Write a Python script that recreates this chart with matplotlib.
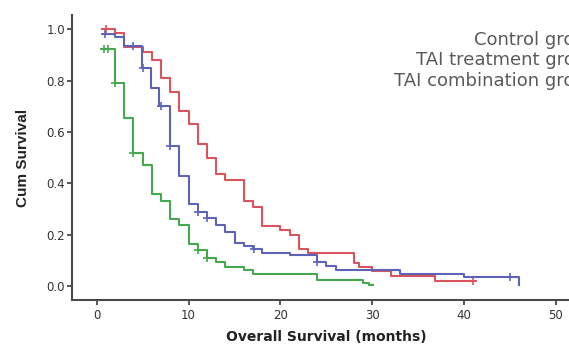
import numpy as np
import matplotlib
matplotlib.use("Agg")
import matplotlib.pyplot as plt

# Kaplan-Meier step data (months, cumulative survival)
red_t = [0.6, 2.0, 3.0, 5.0, 6.0, 7.0, 8.0, 9.0, 10.0, 11.0, 12.0, 13.0, 14.0,
         16.0, 17.0, 18.0, 20.0, 21.0, 22.0, 23.0, 28.0, 28.6, 30.0, 32.0, 36.8, 41.2]
red_s = [1.0, 0.985, 0.93, 0.91, 0.88, 0.81, 0.755, 0.68, 0.63, 0.555, 0.50, 0.435, 0.415,
         0.33, 0.31, 0.235, 0.22, 0.20, 0.146, 0.128, 0.092, 0.076, 0.058, 0.039, 0.019, 0.019]
red_cens = [1.0, 41.0]

blue_t = [0.7, 2.0, 3.0, 4.9, 5.95, 6.8, 7.95, 9.0, 10.0, 11.0, 12.0, 13.0, 14.0,
          15.0, 16.0, 17.0, 18.0, 21.0, 24.0, 25.0, 26.0, 33.0, 40.0, 46.0]
blue_s = [0.98, 0.97, 0.935, 0.85, 0.77, 0.70, 0.545, 0.43, 0.32, 0.29, 0.265, 0.24, 0.21,
          0.17, 0.155, 0.145, 0.13, 0.12, 0.094, 0.079, 0.063, 0.048, 0.034, 0.004]
blue_cens = [0.9, 3.9, 5.0, 7.0, 8.0, 11.0, 12.0, 17.1, 24.0, 45.0]

green_t = [0.6, 2.0, 3.0, 4.0, 5.0, 6.0, 7.0, 8.0, 9.0, 10.0, 11.0, 12.0, 13.0, 14.0,
           16.0, 17.0, 24.0, 29.0, 29.6, 30.1]
green_s = [0.925, 0.79, 0.655, 0.52, 0.47, 0.36, 0.33, 0.26, 0.24, 0.165, 0.14, 0.11, 0.095, 0.075,
           0.062, 0.048, 0.026, 0.013, 0.006, 0.006]
green_cens = [0.8, 1.2, 2.0, 4.0, 11.0, 12.0]

groups = ["Control group", "TAI treatment group", "TAI combination group"]
x_ticks = [0, 10, 20, 30, 40, 50]
y_ticks = [0.0, 0.2, 0.4, 0.6, 0.8, 1.0]

series = [
    (red_t, red_s, red_cens, "#d9545c"),
    (blue_t, blue_s, blue_cens, "#5f63b8"),
    (green_t, green_s, green_cens, "#46a84e"),
]

fig = plt.figure(figsize=(5.69, 3.44), dpi=100)
ax = fig.add_axes([0.1265, 0.127, 0.894, 0.829])

for t, s, cens, col in series:
    ax.step(t, s, where="post", color=col, lw=1.5)
    idx = np.searchsorted(t, cens, side="right") - 1
    ax.plot(cens, np.array(s)[idx], ls="none", marker="+", ms=6, mew=1.2, color=col)

ax.set_xlim(-2.7, 52.7)
ax.set_ylim(-0.055, 1.055)
ax.set_xticks(x_ticks)
ax.set_yticks(y_ticks)
ax.set_yticklabels([f"{v:.1f}" for v in y_ticks])
for side in ["top", "right"]:
    ax.spines[side].set_visible(False)
for side in ["left", "bottom"]:
    ax.spines[side].set_color("#4a4a4a")
    ax.spines[side].set_linewidth(1.5)
ax.tick_params(direction="out", length=3.5, width=1.3, color="#4a4a4a",
               labelsize=8.5, labelcolor="#333333", pad=1.5)
ax.tick_params(axis="x", pad=2.5)

ax.set_xlabel("Overall Survival (months)", fontsize=10, fontweight="bold",
              color="#222222", labelpad=6)
ax.set_ylabel("Cum Survival", fontsize=11, fontweight="bold", color="#222222",
              family=["Liberation Sans", "DejaVu Sans"], labelpad=12)

# legend labels, cut off by the right edge like the reference
for i, g in enumerate(groups):
    fig.text(1.05, 0.884 - i * 0.0596, g, ha="right", va="center",
             fontsize=13, color="#5a5a5a")

fig.savefig("out.png", dpi=100)
